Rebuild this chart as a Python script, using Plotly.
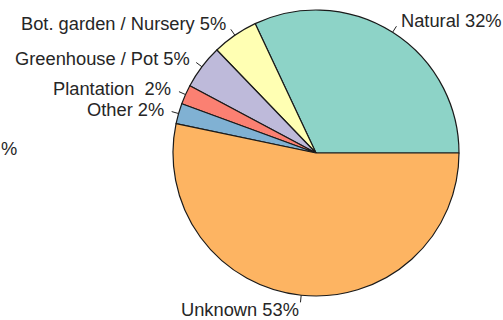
import math
import plotly.graph_objects as go

labels = ["Natural", "Bot. garden / Nursery", "Greenhouse / Pot", "Plantation ", "Other", "Unknown"]
values = [32.0, 5.2, 5.0, 2.2, 2.3, 53.3]
colors = ["#8DD3C7", "#FFFFB3", "#BEBADA", "#FB8072", "#80B1D3", "#FDB462"]

W, H = 503, 320
cx, cy, r = 316, 153, 143  # pie centre and radius in pixels

total = sum(values)
# plotly: with counterclockwise direction the first slice spans [rotation, rotation + its angle]
# (clockwise from 12 o'clock); start the first slice at 3 o'clock going counterclockwise like R
rot = 90 - values[0] / total * 360

fig = go.Figure(go.Pie(
    labels=labels, values=values, sort=False,
    direction="counterclockwise", rotation=rot,
    marker=dict(colors=colors, line=dict(color="#1a1a1a", width=1.2)),
    textinfo="none", hoverinfo="label+percent", showlegend=False,
    domain=dict(x=[(cx - r) / W, (cx + r) / W], y=[(H - cy - r) / H, (H - cy + r) / H]),
))

cum = 0
annotations = []
shapes = []
for lab, v in zip(labels, values):
    mid = (cum + v / 2) / total * 2 * math.pi
    cum += v
    c, s = math.cos(mid), math.sin(mid)
    x0, y0 = cx + r * c, cy - r * s
    x1, y1 = cx + 1.05 * r * c, cy - 1.05 * r * s
    tx, ty = cx + 1.1 * r * c, cy - 1.1 * r * s
    shapes.append(dict(type="line", xref="paper", yref="paper",
                       x0=x0 / W, y0=1 - y0 / H, x1=x1 / W, y1=1 - y1 / H,
                       line=dict(color="#222", width=1)))
    pct = round(v / total * 100)
    annotations.append(dict(xref="paper", yref="paper", x=tx / W, y=1 - ty / H,
                            text=f"{lab} {pct}%", showarrow=False, borderpad=0,
                            xanchor="left" if c > 0 else "right", yanchor="middle"))

annotations.append(dict(xref="paper", yref="paper", x=0, y=1 - 148 / H,
                        text="%", showarrow=False, borderpad=0, xanchor="left", yanchor="middle"))

fig.update_layout(
    width=W, height=H, margin=dict(l=0, r=0, t=0, b=0),
    paper_bgcolor="white", plot_bgcolor="white",
    font=dict(family="Liberation Sans, Arial, sans-serif", size=18.3, color="#262626"),
    annotations=annotations, shapes=shapes,
)
fig.write_html("out.html", config={"displayModeBar": False},
               post_script="document.body.style.margin='0px';")
